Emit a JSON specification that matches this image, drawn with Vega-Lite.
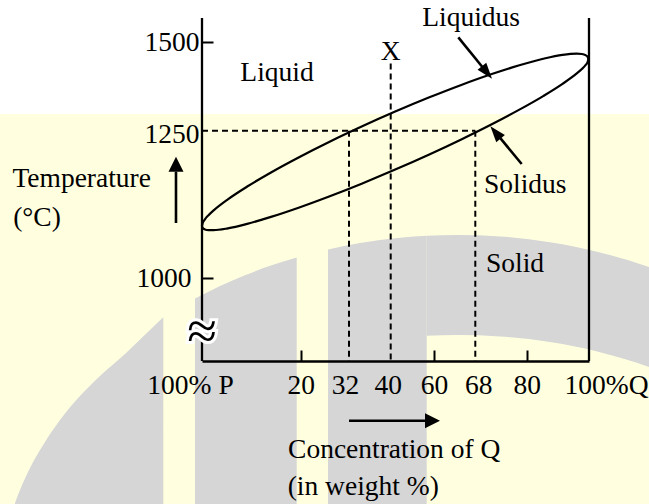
{
  "$schema": "https://vega.github.io/schema/vega-lite/v6.json",
  "width": 387,
  "height": 343,
  "autosize": {"type": "none"},
  "padding": {"left": 202, "top": 18, "right": 60, "bottom": 143},
  "background": "white",
  "config": {"view": {"stroke": null}},
  "datasets": {
    "bg": [{"conc": -45, "conc2": 125, "temp": 1297.2, "temp2": 600}],
    "watermark": [
      {"piece": "A", "conc": -37.89, "temp": 619.6, "temp2": 600},
      {"piece": "A", "conc": -36.88, "temp": 641.6, "temp2": 600},
      {"piece": "A", "conc": -34.85, "temp": 678.9, "temp2": 600},
      {"piece": "A", "conc": -31.81, "temp": 722.9, "temp2": 600},
      {"piece": "A", "conc": -28.77, "temp": 760.1, "temp2": 600},
      {"piece": "A", "conc": -24.72, "temp": 800.7, "temp2": 600},
      {"piece": "A", "conc": -20.67, "temp": 834.6, "temp2": 600},
      {"piece": "A", "conc": -15.6, "temp": 871.9, "temp2": 600},
      {"piece": "A", "conc": -10.54, "temp": 912.5, "temp2": 600},
      {"piece": "A", "conc": -7.84, "temp": 934.0, "temp2": 600},
      {"piece": "B", "conc": -1.42, "temp": 965.6, "temp2": 600},
      {"piece": "B", "conc": 3.65, "temp": 987.0, "temp2": 600},
      {"piece": "B", "conc": 8.71, "temp": 1005.2, "temp2": 600},
      {"piece": "B", "conc": 13.78, "temp": 1021.2, "temp2": 600},
      {"piece": "B", "conc": 19.19, "temp": 1035.4, "temp2": 600},
      {"piece": "C1", "conc": 26.78, "temp": 1048.9, "temp2": 600},
      {"piece": "C1", "conc": 34.11, "temp": 1059.6, "temp2": 600},
      {"piece": "C1", "conc": 44.3, "temp": 1068.6, "temp2": 600},
      {"piece": "C1", "conc": 56.63, "temp": 1071.9, "temp2": 600},
      {"piece": "C2", "conc": 56.63, "temp": 1071.9, "temp2": 902.7},
      {"piece": "C2", "conc": 64.59, "temp": 1073.3, "temp2": 904.0},
      {"piece": "C2", "conc": 73.77, "temp": 1070.8, "temp2": 901.5},
      {"piece": "C2", "conc": 87.48, "temp": 1061.1, "temp2": 892.0},
      {"piece": "C2", "conc": 103.53, "temp": 1043.9, "temp2": 874.9},
      {"piece": "C2", "conc": 119.26, "temp": 1019.0, "temp2": 849.8},
      {"piece": "C2", "conc": 122.79, "temp": 1012.2, "temp2": 842.9}
    ],
    "curves": [
      {"curve": "Liquidus", "conc": 99.81, "temp": 1452.2},
      {"curve": "Liquidus", "conc": 99.57, "temp": 1458.9},
      {"curve": "Liquidus", "conc": 98.87, "temp": 1463.8},
      {"curve": "Liquidus", "conc": 97.7, "temp": 1466.9},
      {"curve": "Liquidus", "conc": 96.07, "temp": 1468.0},
      {"curve": "Liquidus", "conc": 91.5, "temp": 1464.5},
      {"curve": "Liquidus", "conc": 85.3, "temp": 1453.4},
      {"curve": "Liquidus", "conc": 78.29, "temp": 1435.1},
      {"curve": "Liquidus", "conc": 71.85, "temp": 1410.2},
      {"curve": "Liquidus", "conc": 65.28, "temp": 1379.4},
      {"curve": "Liquidus", "conc": 57.57, "temp": 1343.6},
      {"curve": "Liquidus", "conc": 42.08, "temp": 1304.0},
      {"curve": "Liquidus", "conc": 34.43, "temp": 1261.7},
      {"curve": "Liquidus", "conc": 27.06, "temp": 1230.9},
      {"curve": "Liquidus", "conc": 19.57, "temp": 1204.7},
      {"curve": "Liquidus", "conc": 13.98, "temp": 1179.3},
      {"curve": "Liquidus", "conc": 9.16, "temp": 1155.4},
      {"curve": "Liquidus", "conc": 5.24, "temp": 1133.8},
      {"curve": "Liquidus", "conc": 2.36, "temp": 1115.1},
      {"curve": "Liquidus", "conc": 1.33, "temp": 1107.0},
      {"curve": "Liquidus", "conc": 0.59, "temp": 1099.8},
      {"curve": "Liquidus", "conc": 0.15, "temp": 1093.7},
      {"curve": "Liquidus", "conc": 0, "temp": 1088.6},
      {"curve": "Solidus", "conc": 0, "temp": 1088.6},
      {"curve": "Solidus", "conc": 0.15, "temp": 1085.1},
      {"curve": "Solidus", "conc": 0.59, "temp": 1082.8},
      {"curve": "Solidus", "conc": 1.33, "temp": 1081.6},
      {"curve": "Solidus", "conc": 2.36, "temp": 1081.5},
      {"curve": "Solidus", "conc": 5.24, "temp": 1084.6},
      {"curve": "Solidus", "conc": 9.16, "temp": 1092.2},
      {"curve": "Solidus", "conc": 13.98, "temp": 1104.0},
      {"curve": "Solidus", "conc": 19.57, "temp": 1119.6},
      {"curve": "Solidus", "conc": 27.06, "temp": 1138.6},
      {"curve": "Solidus", "conc": 34.43, "temp": 1160.3},
      {"curve": "Solidus", "conc": 42.08, "temp": 1184.1},
      {"curve": "Solidus", "conc": 57.57, "temp": 1209.3},
      {"curve": "Solidus", "conc": 65.28, "temp": 1235.2},
      {"curve": "Solidus", "conc": 71.85, "temp": 1268.2},
      {"curve": "Solidus", "conc": 78.29, "temp": 1309.5},
      {"curve": "Solidus", "conc": 85.3, "temp": 1347.9},
      {"curve": "Solidus", "conc": 91.5, "temp": 1382.4},
      {"curve": "Solidus", "conc": 96.07, "temp": 1411.9},
      {"curve": "Solidus", "conc": 97.7, "temp": 1424.4},
      {"curve": "Solidus", "conc": 98.87, "temp": 1435.4},
      {"curve": "Solidus", "conc": 99.57, "temp": 1444.7},
      {"curve": "Solidus", "conc": 99.81, "temp": 1452.2}
    ],
    "guides": [
      {"conc": 0, "conc2": 68, "temp": 1250, "temp2": 1250},
      {"conc": 32, "conc2": 32, "temp": 1250, "temp2": 860},
      {"conc": 68, "conc2": 68, "temp": 1250, "temp2": 860},
      {"conc": 40, "conc2": 40, "temp": 1440, "temp2": 860}
    ],
    "frame": [
      {"conc": 0, "conc2": 0, "temp": 860, "temp2": 1568.7},
      {"conc": 100, "conc2": 100, "temp": 860, "temp2": 1568.7}
    ],
    "shafts": [
      {"conc": -5.27, "conc2": -5.27, "temp": 1093.7, "temp2": 1180.6},
      {"conc": 32, "conc2": 55.84, "temp": 758.9, "temp2": 758.9},
      {"conc": 64.71, "conc2": 69.61, "temp": 1514.1, "temp2": 1431.0},
      {"conc": 78.83, "conc2": 73.84, "temp": 1193.6, "temp2": 1237.3}
    ],
    "headUp": [{"conc": -5.27, "temp": 1193.0}],
    "headRight": [{"conc": 59.31, "temp": 758.9}],
    "headLiq": [{"conc": 70.72, "temp": 1414.6}],
    "headSol": [{"conc": 72.71, "temp": 1247.0}],
    "texts": [
      {"label": "Liquid", "conc": 15.2, "temp": 1390.6},
      {"label": "X", "conc": 40, "temp": 1450},
      {"label": "Liquidus", "conc": 67.2, "temp": 1546.1},
      {"label": "Solidus", "conc": 79.67, "temp": 1144},
      {"label": "Solid", "conc": 77.27, "temp": 1011.2},
      {"label": "Temperature", "conc": -24.38, "temp": 1154.1},
      {"label": "(°C)", "conc": -33.43, "temp": 1088.6},
      {"label": "Concentration of Q", "conc": 41.62, "temp": 695.8},
      {"label": "(in weight %)", "conc": 34.74, "temp": 633.2}
    ],
    "brk": [{"conc": 0, "temp": 907.4}]
  },
  "encoding": {
    "x": {
      "field": "conc", "type": "quantitative", "title": null,
      "scale": {"domain": [0, 20, 32, 40, 60, 68, 80, 100], "range": [0, 98.7, 147, 188.7, 232, 273.3, 324.7, 387], "nice": false, "zero": false},
      "axis": {
        "values": [0, 20, 32, 40, 60, 68, 80, 100],
        "labelExpr": "datum.value === 0 ? '100% P' : datum.value === 100 ? '100%Q' : datum.label",
        "domain": true, "domainColor": "black", "domainWidth": 2.3,
        "ticks": true, "tickSize": -11, "tickWidth": 2, "tickColor": "black",
        "tickOpacity": {"condition": {"test": "indexof([20,60,80], datum.value) < 0", "value": 0}, "value": 1},
        "labelFont": "Liberation Serif", "labelFontSize": 27.5, "labelColor": "black",
        "labelPadding": 21, "labelOverlap": false, "labelFlush": false, "labelBound": false,
        "labelOffset": {"condition": [
          {"test": "datum.value === 0", "value": -12},
          {"test": "datum.value === 100", "value": 17},
          {"test": "datum.value === 32", "value": -4},
          {"test": "datum.value === 40", "value": -3},
          {"test": "datum.value === 68", "value": 3}
        ], "value": 0},
        "grid": false, "title": null, "zindex": 1
      }
    },
    "y": {
      "field": "temp", "type": "quantitative", "title": null,
      "scale": {"domain": [860, 1000, 1250, 1500, 1568.7], "range": [343, 260.3, 112.7, 24.3, 0], "nice": false, "zero": false},
      "axis": {
        "values": [1000, 1250, 1500], "format": "d",
        "domain": false, "ticks": true, "tickSize": -11, "tickWidth": 2, "tickColor": "black",
        "tickOpacity": {"condition": {"test": "datum.value === 1250", "value": 0}, "value": 1},
        "labelFont": "Liberation Serif", "labelFontSize": 27.5, "labelColor": "black",
        "labelPadding": {"condition": {"test": "datum.value === 1000", "value": 22}, "value": 14},
        "labelOffset": {"condition": {"test": "datum.value === 1250", "value": 4}, "value": 0},
        "labelOverlap": false, "labelBound": false,
        "grid": false, "title": null, "zindex": 1
      }
    }
  },
  "layer": [
    {
      "data": {"name": "bg"},
      "mark": {"type": "rect", "color": "#FFFFE0"},
      "encoding": {"x2": {"field": "conc2"}, "y2": {"field": "temp2"}}
    },
    {
      "data": {"name": "watermark"},
      "mark": {"type": "area", "color": "#D6D6D6", "interpolate": "monotone", "opacity": 1},
      "encoding": {
        "y": {"field": "temp", "type": "quantitative", "title": null, "stack": null},
        "y2": {"field": "temp2"},
        "detail": {"field": "piece"}
      }
    },
    {
      "data": {"name": "guides"},
      "mark": {"type": "rule", "color": "black", "strokeWidth": 2, "strokeDash": [6, 4]},
      "encoding": {"x2": {"field": "conc2"}, "y2": {"field": "temp2"}}
    },
    {
      "data": {"name": "frame"},
      "mark": {"type": "rule", "color": "black", "strokeWidth": 2.3},
      "encoding": {"x2": {"field": "conc2"}, "y2": {"field": "temp2"}}
    },
    {
      "data": {"name": "curves"},
      "mark": {"type": "line", "color": "black", "strokeWidth": 2.2, "interpolate": "monotone", "strokeCap": "round"},
      "encoding": {"detail": {"field": "curve"}}
    },
    {
      "data": {"name": "shafts"},
      "mark": {"type": "rule", "color": "black", "strokeWidth": 2.6},
      "encoding": {"x2": {"field": "conc2"}, "y2": {"field": "temp2"}}
    },
    {
      "data": {"name": "headUp"},
      "mark": {"type": "point", "shape": "M0,-1L1,1L-1,1Z", "filled": true, "color": "black", "opacity": 1, "size": 225, "angle": 0, "strokeWidth": 0}
    },
    {
      "data": {"name": "headRight"},
      "mark": {"type": "point", "shape": "M0,-1L1,1L-1,1Z", "filled": true, "color": "black", "opacity": 1, "size": 225, "angle": 90, "strokeWidth": 0}
    },
    {
      "data": {"name": "headLiq"},
      "mark": {"type": "point", "shape": "M0,-1L0.7,1L-0.7,1Z", "filled": true, "color": "black", "opacity": 1, "size": 256, "angle": 140.9, "strokeWidth": 0}
    },
    {
      "data": {"name": "headSol"},
      "mark": {"type": "point", "shape": "M0,-1L0.7,1L-0.7,1Z", "filled": true, "color": "black", "opacity": 1, "size": 256, "angle": 320.3, "strokeWidth": 0}
    },
    {
      "data": {"name": "texts"},
      "mark": {"type": "text", "align": "center", "baseline": "alphabetic", "font": "Liberation Serif", "fontSize": 27.5, "color": "black"},
      "encoding": {"text": {"field": "label"}}
    },
    {
      "data": {"name": "brk"},
      "mark": {"type": "text", "text": "≈", "align": "center", "baseline": "middle", "font": "Liberation Serif", "fontSize": 54, "fill": "white", "stroke": "white", "strokeWidth": 6}
    },
    {
      "data": {"name": "brk"},
      "mark": {"type": "text", "text": "≈", "align": "center", "baseline": "middle", "font": "Liberation Serif", "fontSize": 54, "color": "black"}
    }
  ]
}
